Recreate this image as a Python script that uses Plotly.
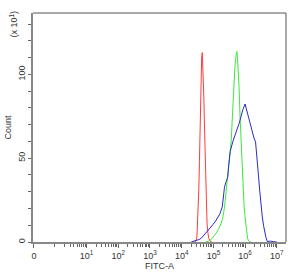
import math
import plotly.graph_objects as go

# FITC-A intensity in decades (log10), counts in units of 10^1
red_x = [4.40, 4.45, 4.48, 4.50, 4.52, 4.54, 4.56, 4.57, 4.59, 4.61, 4.63, 4.65, 4.66, 4.68, 4.70,
         4.72, 4.74, 4.76, 4.78, 4.80, 4.83, 4.86, 4.90, 4.95]
red_y = [0, 0.5, 3, 10, 20, 31, 48, 60, 80, 100, 110, 113, 108, 100, 85,
         68, 50, 31, 18, 11, 5, 2, 0.5, 0]

green_x = [4.75, 4.85, 4.93, 5.00, 5.09, 5.17, 5.25, 5.30, 5.35, 5.40, 5.45, 5.50, 5.56, 5.60, 5.64,
           5.68, 5.72, 5.74, 5.76, 5.79, 5.81, 5.84, 5.87, 5.90, 5.92, 5.97, 6.02, 6.05, 6.08, 6.12, 6.18]
green_y = [0, 0.5, 1.5, 3, 5.4, 8, 11.3, 15, 20.6, 30, 40.5, 50, 59.7, 75, 92,
           105, 112, 113.6, 110, 100, 92, 75, 59.7, 48, 40.5, 20.6, 11.3, 5.4, 2, 0.5, 0]

blue_x = [4.30, 4.37, 4.47, 4.55, 4.62, 4.72, 4.83, 4.92, 4.99, 5.07, 5.14, 5.21, 5.28, 5.32, 5.35,
          5.40, 5.45, 5.49, 5.53, 5.61, 5.70, 5.76, 5.81, 5.87, 5.93, 6.00, 6.06, 6.12, 6.18, 6.23,
          6.28, 6.33, 6.38, 6.42, 6.46, 6.50, 6.54, 6.58, 6.62, 6.66, 6.70, 6.80, 6.90, 7.00]
blue_y = [0, 0.3, 0.8, 1.5, 2.3, 4.5, 6.6, 8.5, 10.5, 12.5, 14.4, 17, 21, 27, 32.7,
          36, 38.5, 47, 54, 59.7, 64, 68, 70.6, 75, 79, 82.3, 78, 72.4, 68, 65.6,
          62, 59.7, 50.4, 40, 30.9, 22, 15.4, 10, 5.7, 2.5, 0.3, 0.5, 0.2, 0]

x_zero_pos = -0.66
x_major_vals = [x_zero_pos, 1, 2, 3, 4, 5, 6, 7]
x_major_text = ["0", "10<sup>1</sup>", "10<sup>2</sup>", "10<sup>3</sup>", "10<sup>4</sup>",
                "10<sup>5</sup>", "10<sup>6</sup>", "10<sup>7</sup>"]
y_tick_vals = [0, 50, 100]
y_tick_text = ["0", "50", "100"]

x_minor = [n + math.log10(k) for n in range(0, 7) for k in range(1, 10) if not (k == 1 and n > 0)]

fig = go.Figure()
fig.add_trace(go.Scatter(x=red_x, y=red_y, mode="lines", line=dict(color="#ff3b3b", width=1)))
fig.add_trace(go.Scatter(x=green_x, y=green_y, mode="lines", line=dict(color="#3de83d", width=1)))
fig.add_trace(go.Scatter(x=blue_x, y=blue_y, mode="lines", line=dict(color="#2a2ac8", width=1)))

font = dict(family="Liberation Sans, Arial, sans-serif", size=9, color="#333333")

fig.update_layout(
    width=292, height=275,
    margin=dict(l=29, r=6, t=13, b=27),
    paper_bgcolor="white", plot_bgcolor="white",
    showlegend=False,
    font=font,
    xaxis=dict(
        range=[-0.69, 7.29], showgrid=False, zeroline=False,
        showline=True, linecolor="#888888", linewidth=1.5,
        tickmode="array", tickvals=x_major_vals, ticktext=x_major_text,
        ticks="outside", ticklen=4, tickcolor="#666666", tickwidth=1,
        minor=dict(tickmode="array", tickvals=x_minor, ticks="outside", ticklen=3,
                   tickcolor="#666666", tickwidth=1, showgrid=False),
        title=dict(text="FITC-A", font=font, standoff=2),
        tickfont=font,
    ),
    yaxis=dict(
        range=[0, 136.6], showgrid=False, zeroline=False,
        showline=True, linecolor="#888888", linewidth=1.5,
        tickmode="array", tickvals=y_tick_vals, ticktext=y_tick_text,
        ticks="outside", ticklen=3, tickcolor="#666666", tickwidth=1,
        minor=dict(tickmode="linear", tick0=0, dtick=10, ticks="outside", ticklen=3,
                   tickcolor="#666666", tickwidth=1, showgrid=False),
        tickangle=-90, tickfont=font,
        title=dict(text="Count", font=font, standoff=4),
    ),
    shapes=[
        dict(type="line", xref="paper", yref="paper", x0=0, x1=1, y0=1, y1=1,
             line=dict(color="#555555", width=1)),
        dict(type="line", xref="paper", yref="paper", x0=1, x1=1, y0=0, y1=1,
             line=dict(color="#555555", width=1)),
    ],
    annotations=[
        dict(text="(x 10<sup>1</sup>)", xref="paper", yref="paper", x=-0.075, y=0.95,
             xanchor="center", yanchor="middle", textangle=-90, showarrow=False, font=font),
    ],
)

fig.write_html("out.html")
